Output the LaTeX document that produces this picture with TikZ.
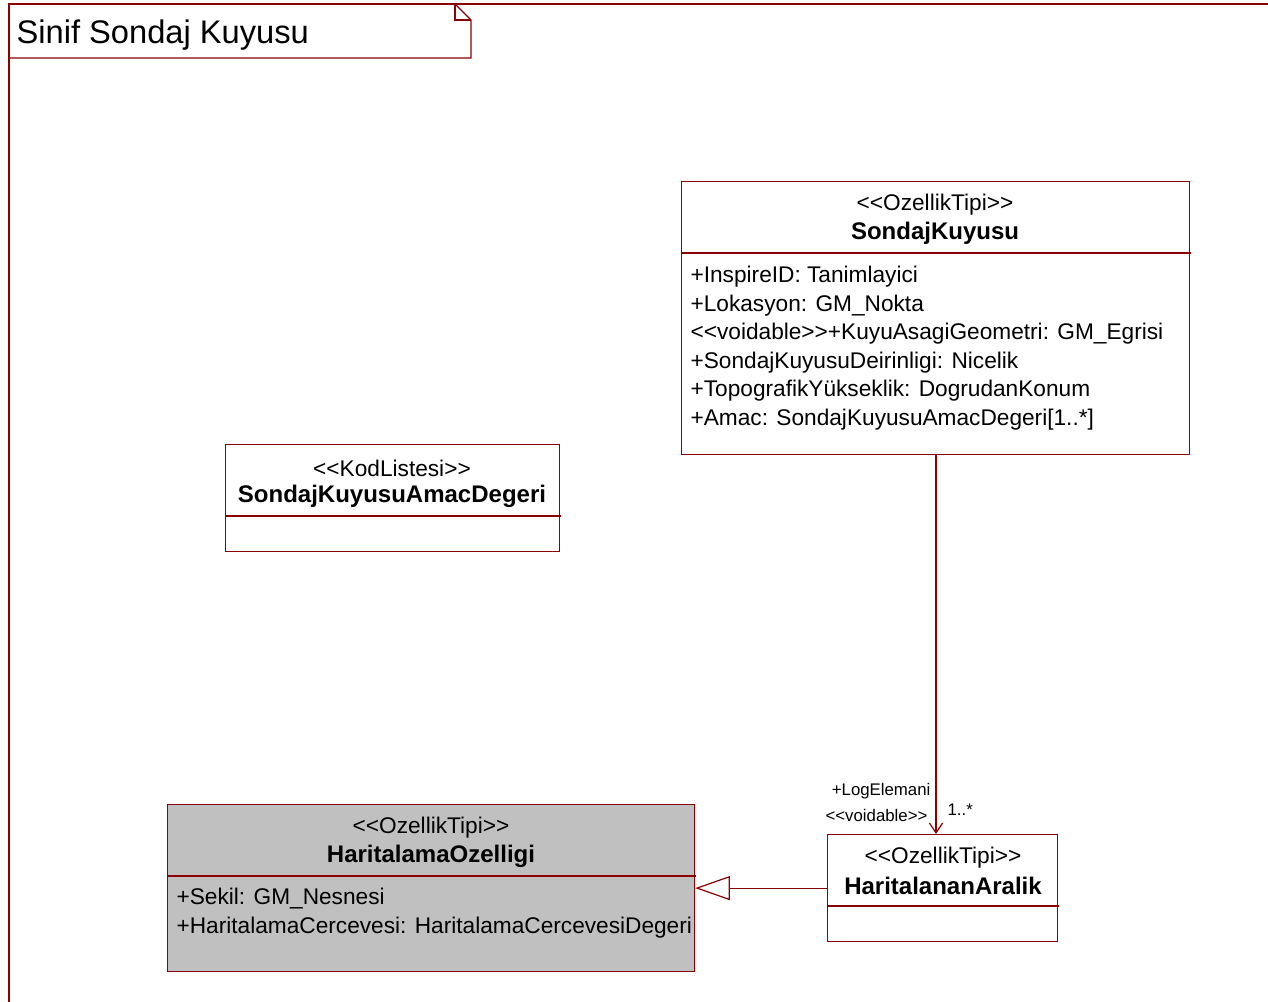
\documentclass[tikz,border=0pt]{standalone}
\usepackage{fontspec}
\setmainfont{Liberation Sans}
\usetikzlibrary{arrows.meta}
\definecolor{umlred}{RGB}{139,0,0}
\definecolor{umlgray}{RGB}{192,192,192}
\newcommand{\stereo}[1]{<{}<#1>{}>}
\def\u{0.75pt}

\begin{document}
\begin{tikzpicture}[x=0.75pt, y=-0.75pt,
  line width=0.9pt,
  umlbox/.style={draw=umlred, rectangle, anchor=north west, inner sep=0pt},
  stereo/.style={font=\fontsize{17}{19}\selectfont, inner sep=0pt, yshift=-1.5pt},
  cname/.style={font=\fontsize{18}{20}\selectfont\bfseries, inner sep=0pt, yshift=-1.5pt},
  attr/.style={font=\fontsize{17}{19}\selectfont, anchor=west, inner sep=0pt, yshift=-1.5pt},
  role/.style={font=\fontsize{12.6}{14}\selectfont, inner sep=0pt, yshift=-1pt},
  assoc/.style={draw=umlred, -{Straight Barb[length=7.5pt, width=10pt]}},
  gen/.style={draw=umlred, -{Triangle[open, length=26pt, width=18pt, fill=white]}}]
  \useasboundingbox (0,0) rectangle (1268,1002);

  % frame and title
  \draw[umlred] (1268,4) -- (9,4) -- (9,1002);
  \draw[umlred] (9,4) -- (455,4) -- (471,20) -- (471,58) -- (9,58) -- cycle;
  \draw[umlred] (455,4) -- (455,20) -- (471,20);
  \node[anchor=west, inner sep=0pt, yshift=-2pt, font=\fontsize{24.5}{28}\selectfont] (title) at (16,32) {Sinif Sondaj Kuyusu};

  % SondajKuyusu
  \node[umlbox, minimum width=508*\u, minimum height=273*\u] (sk) at (681,181) {};
  \draw[umlred] (681,253) -- (1191,253);
  \node[stereo] (skst) at (935,203) {\stereo{OzellikTipi}};
  \node[cname] (skname) at (935,231) {SondajKuyusu};
  \foreach \t [count=\i] in {+InspireID: Tanimlayici,
      +Lokasyon: GM\_Nokta,
      \stereo{voidable}+KuyuAsagiGeometri: GM\_Egrisi,
      +SondajKuyusuDeirinligi: Nicelik,
      +TopografikYükseklik: DogrudanKonum,
      +Amac: SondajKuyusuAmacDegeri[1..*]} {
    \node[attr] (ska\i) at (690,{275+28.5*(\i-1)}) {\t};
  }

  % SondajKuyusuAmacDegeri
  \node[umlbox, minimum width=334*\u, minimum height=107*\u] (skad) at (225,444) {};
  \draw[umlred] (225,516) -- (561,516);
  \node[stereo] (skadst) at (392,466) {\stereo{KodListesi}};
  \node[cname] (skadname) at (392,494) {SondajKuyusuAmacDegeri};

  % HaritalamaOzelligi
  \node[umlbox, fill=umlgray, minimum width=527*\u, minimum height=167*\u] (ho) at (167,804) {};
  \draw[umlred] (167,876) -- (696,876);
  \node[stereo] (host) at (431,826) {\stereo{OzellikTipi}};
  \node[cname] (honame) at (431,854) {HaritalamaOzelligi};
  \foreach \t [count=\i] in {+Sekil: GM\_Nesnesi,
      +HaritalamaCercevesi: HaritalamaCercevesiDegeri} {
    \node[attr] (hoa\i) at (176,{897+29*(\i-1)}) {\t};
  }

  % HaritalananAralik
  \node[umlbox, minimum width=230*\u, minimum height=107*\u] (ha) at (827,834) {};
  \draw[umlred] (827,906) -- (1059,906);
  \node[stereo] (hast) at (943,856) {\stereo{OzellikTipi}};
  \node[cname] (haname) at (943,884) {HaritalananAralik};

  % connectors
  \draw[assoc] (936,454) coordinate (a1) -- (a1 |- ha.north);
  \node[role, anchor=east] (rl1) at (931,790) {+LogElemani};
  \node[role, anchor=east] (rl2) at (928,814) {\stereo{voidable}};
  \node[role, anchor=west] (rm) at (947,808) {1..*};
  \draw[gen] (ha.west) -- (ho.east |- ha.west);
\end{tikzpicture}
\end{document}
